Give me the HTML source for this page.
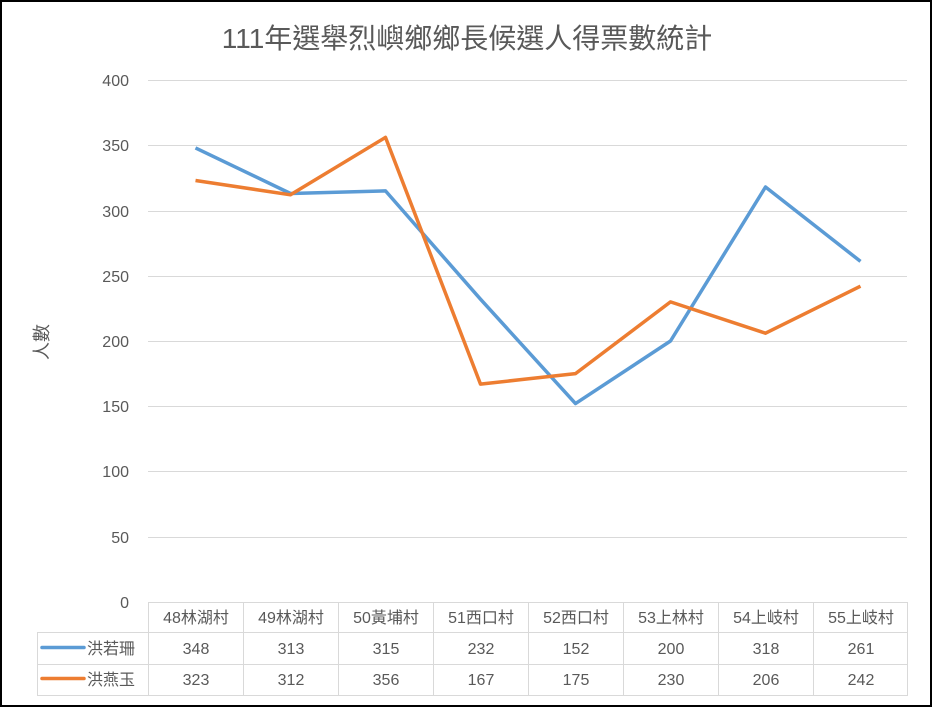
<!DOCTYPE html>
<html><head><meta charset="utf-8"><style>
body{margin:0;background:#fff}
svg{display:block;font-family:"Liberation Sans","Noto Sans CJK TC",sans-serif}
</style></head><body>
<svg width="932" height="707" xmlns="http://www.w3.org/2000/svg">
<rect x="1" y="1" width="930" height="705" fill="#fff" stroke="#000" stroke-width="2"/>
<text x="467" y="48" font-size="28" fill="#595959" text-anchor="middle">111年選舉烈嶼鄉鄉長候選人得票數統計</text>
<g stroke="#d9d9d9" stroke-width="1">
<line x1="148" y1="80.5" x2="907" y2="80.5"/>
<line x1="148" y1="145.5" x2="907" y2="145.5"/>
<line x1="148" y1="211.5" x2="907" y2="211.5"/>
<line x1="148" y1="276.5" x2="907" y2="276.5"/>
<line x1="148" y1="341.5" x2="907" y2="341.5"/>
<line x1="148" y1="406.5" x2="907" y2="406.5"/>
<line x1="148" y1="471.5" x2="907" y2="471.5"/>
<line x1="148" y1="537.5" x2="907" y2="537.5"/>
</g>
<g font-size="16" fill="#595959" text-anchor="end">
<text x="129" y="86">400</text><text x="129" y="151">350</text><text x="129" y="217">300</text>
<text x="129" y="282">250</text><text x="129" y="347">200</text><text x="129" y="412">150</text>
<text x="129" y="477">100</text><text x="129" y="543">50</text><text x="129" y="608">0</text>
</g>
<text x="48" y="342" font-size="18" fill="#595959" text-anchor="middle" transform="rotate(-90 48 342)" >人數</text>
<g stroke="#d9d9d9" stroke-width="1" fill="none">
<line x1="148" y1="602.5" x2="907" y2="602.5"/>
<line x1="37" y1="632.5" x2="907" y2="632.5"/>
<line x1="37" y1="664.5" x2="907" y2="664.5"/>
<line x1="37" y1="695.5" x2="907" y2="695.5"/>
<line x1="37.5" y1="632" x2="37.5" y2="696"/>
<line x1="148.5" y1="602" x2="148.5" y2="696"/>
<line x1="243.5" y1="602" x2="243.5" y2="696"/>
<line x1="338.5" y1="602" x2="338.5" y2="696"/>
<line x1="433.5" y1="602" x2="433.5" y2="696"/>
<line x1="528.5" y1="602" x2="528.5" y2="696"/>
<line x1="623.5" y1="602" x2="623.5" y2="696"/>
<line x1="718.5" y1="602" x2="718.5" y2="696"/>
<line x1="813.5" y1="602" x2="813.5" y2="696"/>
<line x1="907.5" y1="602" x2="907.5" y2="696"/>
</g>
<g font-size="16" fill="#595959" text-anchor="middle">
<text x="196" y="623">48林湖村</text><text x="291" y="623">49林湖村</text><text x="386" y="623">50黃埔村</text>
<text x="481" y="623">51西口村</text><text x="576" y="623">52西口村</text><text x="671" y="623">53上林村</text>
<text x="766" y="623">54上岐村</text><text x="861" y="623">55上岐村</text>
<text x="196" y="654">348</text><text x="291" y="654">313</text><text x="386" y="654">315</text><text x="481" y="654">232</text>
<text x="576" y="654">152</text><text x="671" y="654">200</text><text x="766" y="654">318</text><text x="861" y="654">261</text>
<text x="196" y="685">323</text><text x="291" y="685">312</text><text x="386" y="685">356</text><text x="481" y="685">167</text>
<text x="576" y="685">175</text><text x="671" y="685">230</text><text x="766" y="685">206</text><text x="861" y="685">242</text>
</g>
<line x1="42" y1="647.5" x2="84" y2="647.5" stroke="#5b9bd5" stroke-width="3.5" stroke-linecap="round"/>
<line x1="42" y1="678.5" x2="84" y2="678.5" stroke="#ed7d31" stroke-width="3.5" stroke-linecap="round"/>
<text x="87" y="654" font-size="16" fill="#595959">洪若珊</text>
<text x="87" y="685" font-size="16" fill="#595959">洪燕玉</text>
<polyline fill="none" stroke="#5b9bd5" stroke-width="3.5" stroke-linejoin="round" points="195.5,147.9 290.5,193.5 385.5,190.9 480.5,299.2 575.5,403.6 670.5,341 765.5,187 860.5,261.4"/>
<polyline fill="none" stroke="#ed7d31" stroke-width="3.5" stroke-linejoin="round" points="195.5,180.5 290.5,194.8 385.5,137.4 480.5,384.1 575.5,373.6 670.5,301.9 765.5,333.2 860.5,286.2"/>
</svg>
</body></html>
